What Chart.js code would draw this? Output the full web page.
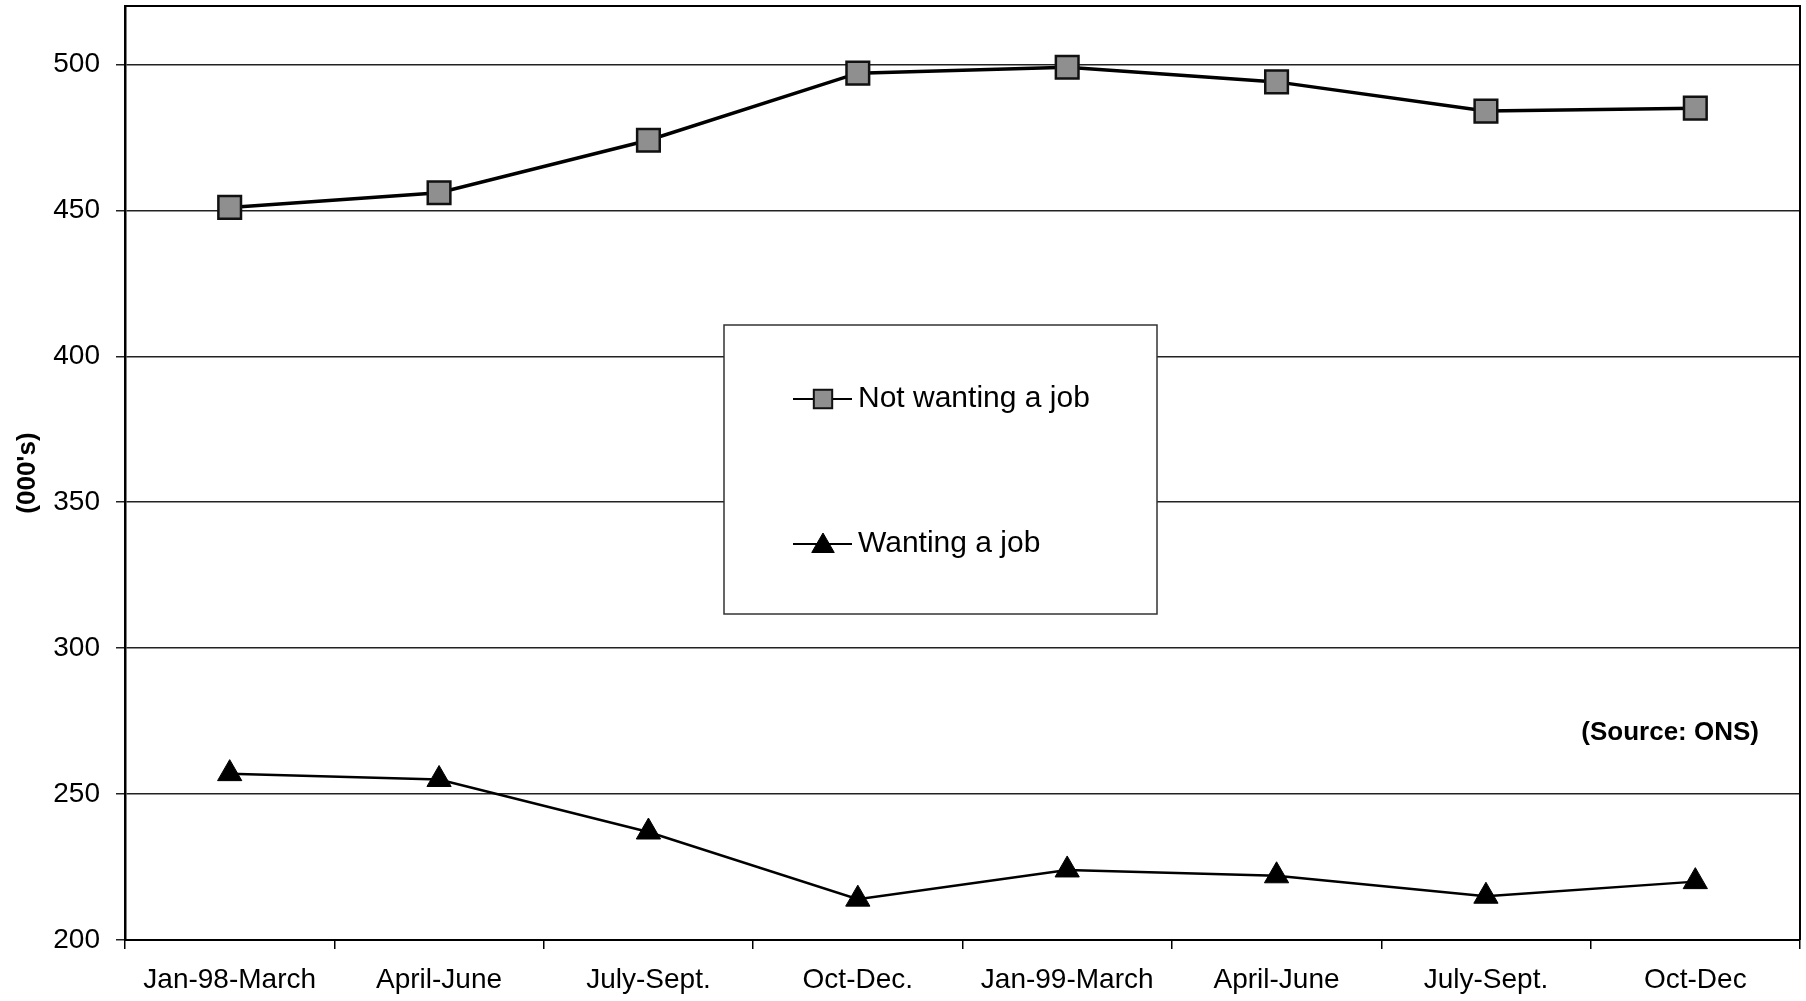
<!DOCTYPE html>
<html>
<head>
<meta charset="utf-8">
<title>Economically inactive: wanting and not wanting a job</title>
<script src="https://cdn.jsdelivr.net/npm/chart.js@4/dist/chart.umd.min.js"></script>
<style>
  html, body { margin: 0; padding: 0; background: #ffffff; }
  #wrap { position: relative; width: 1806px; height: 1001px; }
</style>
</head>
<body>
<div id="wrap"><canvas id="chart"></canvas></div>
<script>
// Quarterly figures, thousands of people
const quarters = ['Jan-98-March', 'April-June', 'July-Sept.', 'Oct-Dec.', 'Jan-99-March', 'April-June', 'July-Sept.', 'Oct-Dec'];
const notWantingJob = [451, 456, 474, 497, 499, 494, 484, 485];
const wantingJob = [257, 255, 237, 214, 224, 222, 215, 220];
const seriesNames = ['Not wanting a job', 'Wanting a job'];
const yTicks = { min: 200, max: 520, step: 50 };
const yTitle = "(000's)";
const sourceNote = '(Source: ONS)';

const FONT = '"Liberation Sans", Arial, Helvetica, sans-serif';

// Box around the whole plotting area (top and right edges)
const frame = {
  id: 'frame',
  afterDraw(chart) {
    const { ctx, chartArea: a } = chart;
    ctx.save();
    ctx.strokeStyle = '#000';
    ctx.lineWidth = 2;
    ctx.beginPath();
    ctx.moveTo(a.left, a.top);
    ctx.lineTo(a.right, a.top);
    ctx.lineTo(a.right, a.bottom);
    ctx.stroke();
    ctx.restore();
  }
};

// Boxed legend inside the plot, plus the source note
const insetLegend = {
  id: 'insetLegend',
  afterDraw(chart) {
    const { ctx } = chart;
    const box = { x: 724, y: 325, w: 433, h: 289 };
    ctx.save();
    ctx.fillStyle = '#fff';
    ctx.fillRect(box.x, box.y, box.w, box.h);
    ctx.strokeStyle = '#333';
    ctx.lineWidth = 1.5;
    ctx.strokeRect(box.x, box.y, box.w, box.h);

    const rows = [399, 544];
    chart.data.datasets.forEach((ds, i) => {
      const y = rows[i];
      ctx.strokeStyle = '#000';
      ctx.lineWidth = 2;
      ctx.beginPath();
      ctx.moveTo(793, y);
      ctx.lineTo(852, y);
      ctx.stroke();
      ctx.fillStyle = ds.pointBackgroundColor;
      ctx.strokeStyle = ds.pointBorderColor;
      ctx.lineWidth = ds.legendBorder;
      Chart.helpers.drawPoint(ctx, {
        pointStyle: ds.pointStyle,
        radius: ds.legendRadius,
        rotation: 0,
        borderWidth: ds.legendBorder
      }, 823, y + ds.legendShift);
      ctx.fillStyle = '#000';
      ctx.font = '30px ' + FONT;
      ctx.textAlign = 'left';
      ctx.textBaseline = 'middle';
      ctx.fillText(ds.label, 858, y);
    });

    ctx.font = 'bold 26px ' + FONT;
    ctx.fillStyle = '#000';
    ctx.textAlign = 'right';
    ctx.textBaseline = 'middle';
    ctx.fillText(sourceNote, 1759, 733);
    ctx.restore();
  }
};

new Chart(document.getElementById('chart'), {
  type: 'line',
  data: {
    labels: quarters,
    datasets: [
      {
        label: seriesNames[0],
        data: notWantingJob,
        borderColor: '#000',
        borderWidth: 3.5,
        pointStyle: 'rect',
        pointRadius: 16,
        pointHoverRadius: 16,
        pointBackgroundColor: '#8f8f8f',
        pointBorderColor: '#111',
        pointBorderWidth: 2.5,
        legendRadius: 13,
        legendBorder: 2,
        legendShift: 0,
        tension: 0,
        fill: false
      },
      {
        label: seriesNames[1],
        data: wantingJob,
        borderColor: '#000',
        borderWidth: 2.5,
        pointStyle: 'triangle',
        pointRadius: 14,
        pointHoverRadius: 14,
        pointBackgroundColor: '#000',
        pointBorderColor: '#000',
        pointBorderWidth: 1,
        legendRadius: 13,
        legendBorder: 1,
        legendShift: 2,
        tension: 0,
        fill: false
      }
    ]
  },
  options: {
    responsive: true,
    maintainAspectRatio: false,
    animation: false,
    layout: { autoPadding: false, padding: { left: 0, right: 6, top: 6, bottom: 0 } },
    plugins: {
      legend: { display: false },
      tooltip: { enabled: false }
    },
    scales: {
      x: {
        type: 'category',
        offset: true,
        grid: {
          offset: true,
          drawOnChartArea: false,
          drawTicks: true,
          tickLength: 9,
          color: '#000',
          lineWidth: 1.5
        },
        border: { display: true, color: '#000', width: 2 },
        ticks: {
          color: '#000',
          font: { family: FONT, size: 28 },
          padding: 14,
          maxRotation: 0,
          autoSkip: false
        },
        afterFit(scale) {
          scale.height = 61;
          scale.paddingLeft = 0;
          scale.paddingRight = 0;
        }
      },
      y: {
        min: yTicks.min,
        max: yTicks.max,
        grid: {
          color: '#222',
          lineWidth: 1.5,
          drawTicks: true,
          tickLength: 9
        },
        border: { display: true, color: '#000', width: 2.5 },
        ticks: {
          stepSize: yTicks.step,
          includeBounds: false,
          color: '#000',
          font: { family: FONT, size: 28 },
          padding: 16
        },
        title: {
          display: true,
          text: yTitle,
          color: '#000',
          font: { family: FONT, size: 26, weight: 'bold' },
          padding: { top: 12, bottom: 0 }
        },
        afterFit(scale) {
          scale.width = 125;
          scale.paddingTop = 0;
          scale.paddingBottom = 0;
        }
      }
    }
  },
  plugins: [frame, insetLegend]
});
</script>
</body>
</html>
